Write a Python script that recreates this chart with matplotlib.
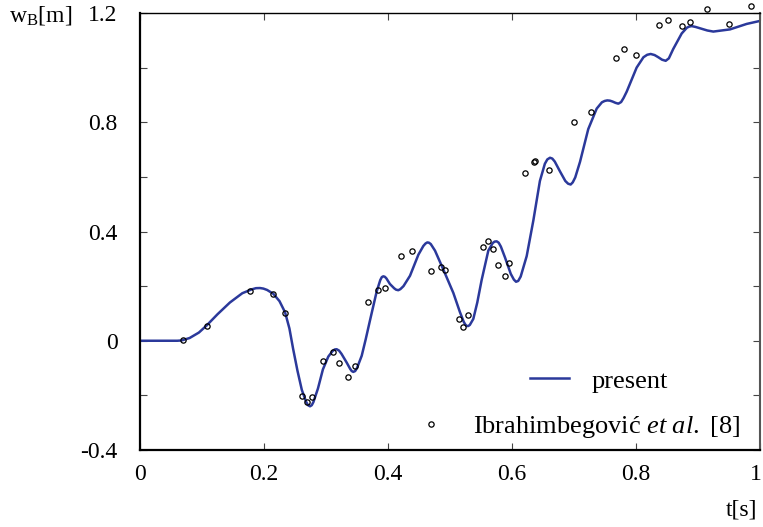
import numpy as np
import matplotlib
matplotlib.use("Agg")
import matplotlib.pyplot as plt
import matplotlib.transforms as mtransforms

plt.rcParams["font.family"] = ["Liberation Serif", "DejaVu Serif"]
plt.rcParams["mathtext.fontset"] = "custom"
plt.rcParams["mathtext.rm"] = "Liberation Serif"
plt.rcParams["mathtext.it"] = "Liberation Serif:italic"

# present solution
t_present = [0, 0.03, 0.06, 0.067, 0.08, 0.095, 0.1075, 0.125, 0.145, 0.165, 0.18,
             0.187, 0.1935, 0.199, 0.205, 0.215, 0.225, 0.234, 0.241, 0.247, 0.254,
             0.261, 0.268, 0.271, 0.2742, 0.277, 0.2796, 0.287, 0.295, 0.3037, 0.3105,
             0.314, 0.3172, 0.321, 0.325, 0.3334, 0.339, 0.3415, 0.344, 0.347, 0.35,
             0.3576, 0.364, 0.371, 0.3817, 0.3875, 0.39, 0.3925, 0.395, 0.3975,
             0.403, 0.41, 0.413, 0.4166, 0.42, 0.425, 0.4355, 0.449, 0.457, 0.4605,
             0.4634, 0.466, 0.469, 0.4758, 0.489, 0.5054, 0.516, 0.522, 0.5245, 0.527,
             0.5295, 0.532, 0.5376, 0.544, 0.551, 0.5618, 0.569, 0.572, 0.5753, 0.5785,
             0.582, 0.5887, 0.598, 0.603, 0.6065, 0.61, 0.614, 0.6237, 0.6344, 0.645,
             0.653, 0.657, 0.6613, 0.665, 0.669, 0.6774, 0.686, 0.6905, 0.6946, 0.698,
             0.702, 0.7097, 0.723, 0.7366, 0.745, 0.7495, 0.7537, 0.758, 0.762, 0.767,
             0.7715, 0.776, 0.78, 0.785, 0.801, 0.812, 0.818, 0.8237, 0.83, 0.836,
             0.842, 0.8479, 0.853, 0.86, 0.8737, 0.882, 0.8855, 0.8898, 0.896, 0.9032,
             0.915, 0.9247, 0.9516, 0.9785, 1.0]
w_present = [0, 0, 0, 0.001, 0.01, 0.03, 0.056, 0.097, 0.14, 0.174, 0.188,
             0.1925, 0.193, 0.191, 0.186, 0.172, 0.145, 0.104, 0.045, -0.03, -0.11,
             -0.18, -0.224, -0.236, -0.24, -0.236, -0.225, -0.175, -0.105, -0.058, -0.038,
             -0.032, -0.031, -0.036, -0.048, -0.08, -0.103, -0.111, -0.114, -0.111, -0.1,
             -0.055, 0.005, 0.075, 0.18, 0.222, 0.233, 0.236, 0.234, 0.228,
             0.208, 0.192, 0.187, 0.185, 0.189, 0.2, 0.238, 0.315, 0.347, 0.356,
             0.36, 0.359, 0.354, 0.33, 0.262, 0.175, 0.105, 0.07, 0.06, 0.054,
             0.054, 0.058, 0.08, 0.14, 0.222, 0.33, 0.358, 0.363, 0.364, 0.359,
             0.345, 0.305, 0.245, 0.224, 0.216, 0.219, 0.235, 0.31, 0.44, 0.585,
             0.648, 0.664, 0.67, 0.667, 0.656, 0.62, 0.585, 0.575, 0.572, 0.58,
             0.598, 0.655, 0.775, 0.85, 0.873, 0.878, 0.88, 0.879, 0.876, 0.871,
             0.868, 0.874, 0.889, 0.912, 1.0, 1.038, 1.047, 1.05, 1.046, 1.038,
             1.029, 1.025, 1.034, 1.068, 1.125, 1.146, 1.15, 1.152, 1.149, 1.144,
             1.136, 1.132, 1.14, 1.16, 1.171]

# Ibrahimbegovic et al. [8]
t_ref = [0.0688, 0.1075, 0.1774, 0.215, 0.2344, 0.2608, 0.2688, 0.2769, 0.2946,
         0.3118, 0.3215, 0.3355, 0.3463, 0.3672, 0.3843, 0.3957, 0.4215, 0.4392,
         0.4688, 0.4849, 0.4914, 0.5139, 0.521, 0.5295, 0.5527, 0.5618, 0.5689,
         0.5774, 0.5887, 0.5957, 0.6215, 0.635, 0.637, 0.6602, 0.70, 0.7269,
         0.7677, 0.7806, 0.80, 0.8371, 0.8516, 0.8747, 0.8871, 0.915, 0.9495, 0.985]
w_ref = [0.003, 0.055, 0.181, 0.172, 0.1, -0.202, -0.225, -0.206, -0.075,
         -0.042, -0.08, -0.134, -0.091, 0.142, 0.186, 0.192, 0.31, 0.329,
         0.254, 0.271, 0.259, 0.078, 0.052, 0.093, 0.344, 0.366, 0.337,
         0.276, 0.238, 0.285, 0.613, 0.655, 0.657, 0.625, 0.801, 0.839,
         1.035, 1.067, 1.045, 1.155, 1.173, 1.152, 1.167, 1.214, 1.16, 1.225]

xticks = [0, 0.2, 0.4, 0.6, 0.8, 1]
xticklabels = ["0", "0.2", "0.4", "0.6", "0.8", "1"]
yticks = [-0.4, -0.2, 0, 0.2, 0.4, 0.6, 0.8, 1.0, 1.2]
yticklabels = ["-0.4", "", "0", "", "0.4", "", "0.8", "", "1.2"]

fig = plt.figure(figsize=(7.63, 5.27), dpi=100)
ax = fig.add_axes([140 / 763, 77 / 527, 620 / 763, 437 / 527])

line, = ax.plot(t_present, w_present, color="#2b399b", lw=1.8,
                solid_joinstyle="round")
pts, = ax.plot(t_ref, w_ref, "o", ms=3.8, mfc="none", mec="black", mew=0.9,
               clip_on=False, zorder=5)

ax.set_xlim(0, 1)
ax.set_ylim(-0.4, 1.2)
ax.set_xticks(xticks)
ax.set_xticklabels(xticklabels)
ax.set_yticks(yticks)
ax.set_yticklabels(yticklabels)
ax.tick_params(direction="in", length=5, width=0.8, top=True, right=True,
               labelsize=17, color="#444444")
ax.tick_params(axis="y", pad=16)
ax.tick_params(axis="x", pad=10)

# keep the "1" at the right edge inside the picture
last = ax.get_xticklabels()[-1]
last.set_transform(last.get_transform() +
                   mtransforms.ScaledTranslation(-4 / 100, 0, fig.dpi_scale_trans))

for s in ["left", "bottom"]:
    ax.spines[s].set_linewidth(1.6)
ax.spines["top"].set_linewidth(1.0)
ax.spines["right"].set_linewidth(1.5)
ax.spines["right"].set_color("#555555")

leg1 = ax.legend([line], ["present"], loc="center right",
                 bbox_to_anchor=(0.852, 0.158), frameon=False, fontsize=19,
                 borderpad=0, borderaxespad=0, handlelength=1.5, handletextpad=0.85)
ax.add_artist(leg1)
ax.legend([pts], [r"Ibrahimbegović $\mathit{et\ al.}$ [8]"], loc="center right",
          bbox_to_anchor=(0.968, 0.053), frameon=False, fontsize=19,
          borderpad=0, borderaxespad=0, handlelength=1.5, handletextpad=0.85)

fig.text(0.012, 0.97, r"w$_\mathrm{B}$[m]", fontsize=17, ha="left", va="center")
fig.text(0.992, 0.032, "t[s]", fontsize=17, ha="right", va="center")

fig.savefig("out.png", dpi=100)
